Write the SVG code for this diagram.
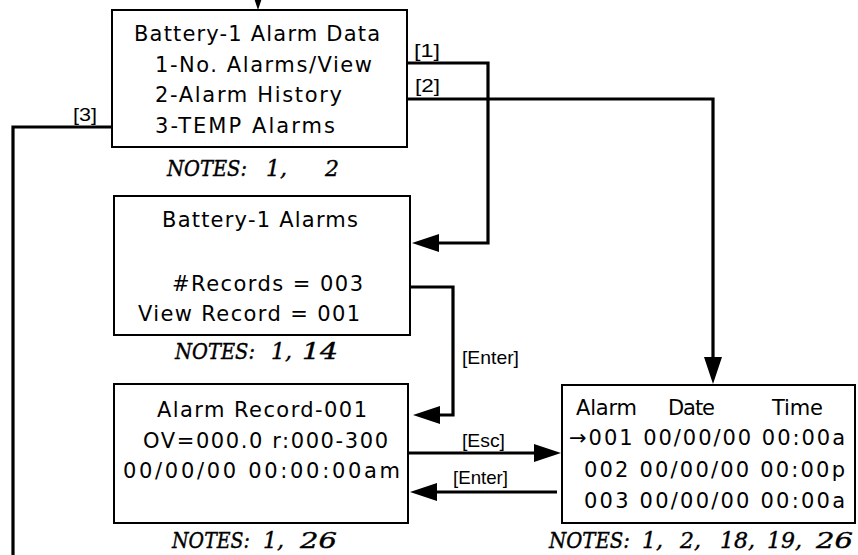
<svg xmlns="http://www.w3.org/2000/svg" width="858" height="555" viewBox="0 0 858 555">
<style>
.box{fill:#fff;stroke:#000;stroke-width:2}
.t{font-family:"DejaVu Sans","Liberation Sans",sans-serif;font-size:21px;fill:#000}
.lbl{font-family:"Liberation Sans","DejaVu Sans",sans-serif;font-size:19px;fill:#000}
.n{font-family:"DejaVu Serif","Liberation Serif",serif;font-size:22px;font-style:italic;font-weight:normal;fill:#000;stroke:#000;stroke-width:0.4}
.c{fill:none;stroke:#000;stroke-width:3.2;stroke-linejoin:miter}
</style>
<defs>
<marker id="ah" viewBox="0 0 27 18" refX="19" refY="9" markerWidth="27" markerHeight="18" markerUnits="userSpaceOnUse" orient="auto">
<path d="M0,0 L27,9 L0,18 z" fill="#000"/>
</marker>
</defs>
<rect width="858" height="555" fill="#fff"/>
<g id="connectors">
<path class="c" d="M258,-30 V2" marker-end="url(#ah)"/>
<path class="c" d="M408,63 H488 V243 H420" marker-end="url(#ah)"/>
<path class="c" d="M408,99 H713 V376" marker-end="url(#ah)"/>
<path class="c" d="M112,127 H13 V555"/>
<path class="c" d="M410,287 H453 V415 H421" marker-end="url(#ah)"/>
<path class="c" d="M408,453 H553" marker-end="url(#ah)"/>
<path class="c" d="M557,492 H418" marker-end="url(#ah)"/>
<text class="lbl" x="414" y="57" textLength="26" lengthAdjust="spacingAndGlyphs">[1]</text>
<text class="lbl" x="415" y="92" textLength="25" lengthAdjust="spacingAndGlyphs">[2]</text>
<text class="lbl" x="73" y="121" textLength="24" lengthAdjust="spacingAndGlyphs">[3]</text>
<text class="lbl" x="462" y="364" textLength="57" lengthAdjust="spacingAndGlyphs">[Enter]</text>
<text class="lbl" x="462" y="447" textLength="43" lengthAdjust="spacingAndGlyphs">[Esc]</text>
<text class="lbl" x="453" y="484" textLength="55" lengthAdjust="spacingAndGlyphs">[Enter]</text>
</g>
<g id="alarm-data">
<rect class="box" x="112" y="10" width="295" height="137"/>
<text class="t" x="134" y="41" textLength="246" lengthAdjust="spacing">Battery-1 Alarm Data</text>
<text class="t" x="155" y="72" textLength="217" lengthAdjust="spacing">1-No. Alarms/View</text>
<text class="t" x="155" y="102" textLength="187" lengthAdjust="spacing">2-Alarm History</text>
<text class="t" x="155" y="133" textLength="180" lengthAdjust="spacing">3-TEMP Alarms</text>
<text class="n" y="176"><tspan x="167" textLength="80" lengthAdjust="spacingAndGlyphs">NOTES:</tspan> <tspan x="266">1,</tspan> <tspan x="325">2</tspan></text>
</g>
<g id="battery-alarms">
<rect class="box" x="114" y="196" width="296" height="139"/>
<text class="t" x="162" y="227" textLength="196" lengthAdjust="spacing">Battery-1 Alarms</text>
<text class="t" x="172" y="291" textLength="191" lengthAdjust="spacing">#Records = 003</text>
<text class="t" x="138" y="321" textLength="222" lengthAdjust="spacing">View Record = 001</text>
<text class="n" y="359"><tspan x="175" textLength="80" lengthAdjust="spacingAndGlyphs">NOTES:</tspan> <tspan x="271">1,</tspan> <tspan x="302" textLength="36" lengthAdjust="spacingAndGlyphs">14</tspan></text>
</g>
<g id="alarm-record">
<rect class="box" x="114" y="384" width="294" height="139"/>
<text class="t" x="157" y="417" textLength="210" lengthAdjust="spacing">Alarm Record-001</text>
<text class="t" x="143" y="448" textLength="245" lengthAdjust="spacing">OV=000.0 r:000-300</text>
<text class="t" x="123" y="478" textLength="277" lengthAdjust="spacing">00/00/00 00:00:00am</text>
<text class="n" y="548"><tspan x="172" textLength="78" lengthAdjust="spacingAndGlyphs">NOTES:</tspan> <tspan x="263">1,</tspan> <tspan x="300" textLength="37" lengthAdjust="spacingAndGlyphs">26</tspan></text>
</g>
<g id="alarm-history">
<rect class="box" x="562" y="385" width="293" height="138"/>
<text class="t" y="415"><tspan x="576" textLength="61" lengthAdjust="spacing">Alarm</tspan> <tspan x="668" textLength="47" lengthAdjust="spacing">Date</tspan> <tspan x="772" textLength="51" lengthAdjust="spacing">Time</tspan></text>
<text class="t" x="569" y="445" textLength="276" lengthAdjust="spacing">→001 00/00/00 00:00a</text>
<text class="t" x="584" y="477" textLength="261" lengthAdjust="spacing">002 00/00/00 00:00p</text>
<text class="t" x="584" y="508" textLength="261" lengthAdjust="spacing">003 00/00/00 00:00a</text>
<text class="n" y="548"><tspan x="549" textLength="81" lengthAdjust="spacingAndGlyphs">NOTES:</tspan> <tspan x="642">1,</tspan> <tspan x="680">2,</tspan> <tspan x="720">18,</tspan> <tspan x="767">19,</tspan> <tspan x="816" textLength="37" lengthAdjust="spacingAndGlyphs">26</tspan></text>
</g>
</svg>
